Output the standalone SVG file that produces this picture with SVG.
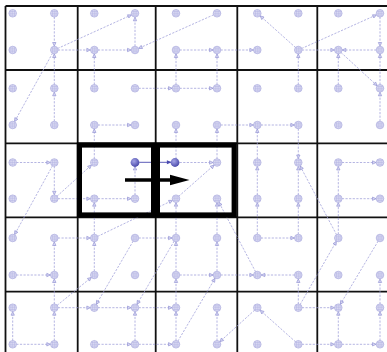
<svg xmlns="http://www.w3.org/2000/svg" xmlns:xlink="http://www.w3.org/1999/xlink" width="387" height="352" viewBox="0 0 387 352">
<style>
.g{stroke:#111;stroke-width:1.8;fill:none}
.e{stroke:#9c9cd8;stroke-width:0.75;stroke-dasharray:2.2 1.4;fill:none;marker-end:url(#a)}
.b{marker-start:url(#a)}
.hl{fill:none;stroke:#000;stroke-width:5.2}
</style>
<defs>
<marker id="a" markerUnits="userSpaceOnUse" markerWidth="10" markerHeight="10" refX="7.9" refY="0" orient="auto-start-reverse" overflow="visible">
<path d="M0.4,-1.7 L4,0 L0.4,1.7 Z" fill="#d6d6f2" stroke="#8c8cd0" stroke-width="0.6"/>
</marker>
<marker id="sb" markerUnits="userSpaceOnUse" markerWidth="10" markerHeight="10" refX="4.3" refY="0" orient="auto" overflow="visible">
<path d="M-0.5,-2 L4.3,0 L-0.5,2 Z" fill="#4a4ab0"/>
</marker>
<radialGradient id="fg" cx="0.38" cy="0.35" r="0.7">
<stop offset="0" stop-color="#a4a4e6"/>
<stop offset="1" stop-color="#4646a8"/>
</radialGradient>
<g id="hn">
<circle r="3.8" fill="#e2e2f5" stroke="#a9a9dd" stroke-width="0.7"/>
<path d="M-3.6,0H3.6M0,-3.6V3.6M-3,-1.8H3M-3,1.8H3M-1.8,-3V3M1.8,-3V3" stroke="#b3b3e3" stroke-width="0.55"/>
</g>
</defs>
<rect width="387" height="352" fill="#fff"/>
<g id="grid">
<path class="g" d="M5.5,6H387M5.5,70H387M5.5,143.3H387M5.5,217.3H387M5.5,291.7H387M5.5,6V352M77.7,6V352M155.7,6V352M237.3,6V352M317.3,6V352"/>
</g>
<g id="connectors">
<line class="e" x1="54.3" y1="13.3" x2="54.3" y2="50"/>
<line class="e" x1="54.3" y1="88.3" x2="54.3" y2="50"/>
<line class="e" x1="54.3" y1="125" x2="54.3" y2="88.3"/>
<line class="e" x1="54.3" y1="50" x2="135" y2="13.3"/>
<line class="e" x1="54.3" y1="50" x2="12.7" y2="125"/>
<line class="e" x1="54.3" y1="50" x2="94.3" y2="50"/>
<line class="e" x1="94.3" y1="50" x2="135" y2="50"/>
<line class="e" x1="94.3" y1="88.3" x2="94.3" y2="50"/>
<line class="e" x1="135" y1="50" x2="135" y2="13.3"/>
<line class="e" x1="217" y1="13.3" x2="135" y2="50"/>
<line class="e" x1="176" y1="50" x2="217" y2="50"/>
<line class="e" x1="217" y1="50" x2="257.3" y2="50"/>
<line class="e" x1="176" y1="88.3" x2="176" y2="50"/>
<line class="e" x1="217" y1="88.3" x2="217" y2="50"/>
<line class="e" x1="135" y1="88.3" x2="176" y2="88.3"/>
<line class="e" x1="176" y1="88.3" x2="217" y2="88.3"/>
<line class="e" x1="298.3" y1="50" x2="257.3" y2="13.3"/>
<line class="e" x1="298.3" y1="50" x2="380" y2="13.3"/>
<line class="e" x1="298.3" y1="50" x2="338.3" y2="50"/>
<line class="e" x1="380" y1="50" x2="338.3" y2="50"/>
<line class="e" x1="380" y1="13.3" x2="380" y2="50"/>
<line class="e" x1="380" y1="88.3" x2="380" y2="50"/>
<line class="e" x1="338.3" y1="88.3" x2="338.3" y2="50"/>
<line class="e" x1="338.3" y1="50" x2="380" y2="88.3"/>
<line class="e" x1="380" y1="125" x2="380" y2="88.3"/>
<line class="e" x1="298.3" y1="88.3" x2="298.3" y2="50"/>
<line class="e" x1="94.3" y1="125" x2="135" y2="125"/>
<line class="e" x1="94.3" y1="162.5" x2="94.3" y2="125"/>
<line class="e" x1="176" y1="162.5" x2="176" y2="125"/>
<line class="e" x1="217" y1="162.5" x2="217" y2="125"/>
<line class="e" x1="217" y1="125" x2="257.3" y2="125"/>
<line class="e" x1="257.3" y1="125" x2="298.3" y2="125"/>
<line class="e" x1="257.3" y1="162.5" x2="257.3" y2="125"/>
<line class="e" x1="298.3" y1="125" x2="298.3" y2="162.5"/>
<line class="e" x1="257.3" y1="198.7" x2="257.3" y2="162.5"/>
<line class="e" x1="298.3" y1="198.7" x2="298.3" y2="162.5"/>
<line class="e" x1="338.3" y1="162.5" x2="380" y2="162.5"/>
<line class="e" x1="338.3" y1="198.7" x2="380" y2="198.7"/>
<line class="e" x1="338.3" y1="198.7" x2="338.3" y2="162.5"/>
<line class="e" x1="338.3" y1="238" x2="338.3" y2="198.7"/>
<line class="e" x1="298.3" y1="238" x2="298.3" y2="198.7"/>
<line class="e" x1="257.3" y1="238" x2="257.3" y2="198.7"/>
<line class="e" x1="257.3" y1="238" x2="298.3" y2="238"/>
<line class="e" x1="380" y1="238" x2="338.3" y2="307.7"/>
<line class="e" x1="176" y1="162.5" x2="217" y2="162.5"/>
<line class="e" x1="135" y1="198.7" x2="135" y2="162.5"/>
<line class="e" x1="94.3" y1="198.7" x2="135" y2="198.7"/>
<line class="e" x1="54.3" y1="198.7" x2="94.3" y2="162.5"/>
<line class="e" x1="54.3" y1="198.7" x2="94.3" y2="198.7"/>
<line class="e" x1="94.3" y1="238" x2="94.3" y2="198.7"/>
<line class="e" x1="176" y1="198.7" x2="217" y2="162.5"/>
<line class="e" x1="94.3" y1="238" x2="176" y2="198.7"/>
<line class="e" x1="176" y1="238" x2="176" y2="198.7"/>
<line class="e" x1="217" y1="238" x2="217" y2="198.7"/>
<line class="e" x1="257.3" y1="275" x2="217" y2="198.7"/>
<line class="e" x1="12.7" y1="162.5" x2="54.3" y2="162.5"/>
<line class="e" x1="54.3" y1="162.5" x2="54.3" y2="198.7"/>
<line class="e" x1="54.3" y1="162.5" x2="12.7" y2="238"/>
<line class="e" x1="338.3" y1="238" x2="298.3" y2="162.5"/>
<line class="e" x1="54.3" y1="238" x2="94.3" y2="238"/>
<line class="e" x1="54.3" y1="275" x2="54.3" y2="238"/>
<line class="e" x1="54.3" y1="307.7" x2="54.3" y2="275"/>
<line class="e" x1="12.7" y1="275" x2="54.3" y2="275"/>
<line class="e" x1="54.3" y1="307.7" x2="94.3" y2="275"/>
<line class="e" x1="54.3" y1="307.7" x2="94.3" y2="307.7"/>
<line class="e" x1="54.3" y1="344.3" x2="54.3" y2="307.7"/>
<line class="e" x1="12.7" y1="344.3" x2="54.3" y2="344.3"/>
<line class="e" x1="12.7" y1="344.3" x2="12.7" y2="307.7"/>
<line class="e" x1="94.3" y1="275" x2="94.3" y2="238"/>
<line class="e" x1="135" y1="238" x2="94.3" y2="307.7"/>
<line class="e" x1="135" y1="238" x2="176" y2="238"/>
<line class="e" x1="176" y1="238" x2="135" y2="307.7"/>
<line class="e" x1="176" y1="275" x2="176" y2="238"/>
<line class="e" x1="176" y1="275" x2="217" y2="275"/>
<line class="e" x1="217" y1="275" x2="217" y2="238"/>
<line class="e" x1="176" y1="344.3" x2="217" y2="275"/>
<line class="e" x1="94.3" y1="307.7" x2="135" y2="307.7"/>
<line class="e" x1="135" y1="307.7" x2="176" y2="307.7"/>
<line class="e" x1="135" y1="344.3" x2="135" y2="307.7"/>
<line class="e" x1="94.3" y1="344.3" x2="135" y2="344.3"/>
<line class="e" x1="135" y1="344.3" x2="176" y2="344.3"/>
<line class="e" x1="176" y1="344.3" x2="176" y2="307.7"/>
<line class="e" x1="176" y1="307.7" x2="176" y2="275"/>
<line class="e" x1="217" y1="275" x2="257.3" y2="275"/>
<line class="e" x1="298.3" y1="275" x2="257.3" y2="275"/>
<line class="e" x1="217" y1="344.3" x2="217" y2="307.7"/>
<line class="e" x1="257.3" y1="307.7" x2="217" y2="344.3"/>
<line class="e" x1="298.3" y1="307.7" x2="298.3" y2="275"/>
<line class="e" x1="298.3" y1="307.7" x2="338.3" y2="238"/>
<line class="e" x1="298.3" y1="307.7" x2="338.3" y2="307.7"/>
<line class="e" x1="298.3" y1="344.3" x2="257.3" y2="307.7"/>
<line class="e" x1="298.3" y1="344.3" x2="338.3" y2="344.3"/>
<line class="e" x1="338.3" y1="344.3" x2="380" y2="344.3"/>
<line class="e" x1="338.3" y1="344.3" x2="338.3" y2="307.7"/>
<line class="e" x1="380" y1="344.3" x2="380" y2="307.7"/>
<line class="e" x1="380" y1="307.7" x2="380" y2="275"/>
<line x1="139.3" y1="162.3" x2="171.7" y2="162.3" stroke="#4a4ab0" stroke-width="0.9" marker-end="url(#sb)"/>
</g>
<g id="nodes">
<g id="n0_0"><use xlink:href="#hn" x="12.7" y="13.3"/></g>
<g id="n1_0"><use xlink:href="#hn" x="54.3" y="13.3"/></g>
<g id="n2_0"><use xlink:href="#hn" x="94.3" y="13.3"/></g>
<g id="n3_0"><use xlink:href="#hn" x="135" y="13.3"/></g>
<g id="n4_0"><use xlink:href="#hn" x="176" y="13.3"/></g>
<g id="n5_0"><use xlink:href="#hn" x="217" y="13.3"/></g>
<g id="n6_0"><use xlink:href="#hn" x="257.3" y="13.3"/></g>
<g id="n7_0"><use xlink:href="#hn" x="298.3" y="13.3"/></g>
<g id="n8_0"><use xlink:href="#hn" x="338.3" y="13.3"/></g>
<g id="n9_0"><use xlink:href="#hn" x="380" y="13.3"/></g>
<g id="n0_1"><use xlink:href="#hn" x="12.7" y="50"/></g>
<g id="n1_1"><use xlink:href="#hn" x="54.3" y="50"/></g>
<g id="n2_1"><use xlink:href="#hn" x="94.3" y="50"/></g>
<g id="n3_1"><use xlink:href="#hn" x="135" y="50"/></g>
<g id="n4_1"><use xlink:href="#hn" x="176" y="50"/></g>
<g id="n5_1"><use xlink:href="#hn" x="217" y="50"/></g>
<g id="n6_1"><use xlink:href="#hn" x="257.3" y="50"/></g>
<g id="n7_1"><use xlink:href="#hn" x="298.3" y="50"/></g>
<g id="n8_1"><use xlink:href="#hn" x="338.3" y="50"/></g>
<g id="n9_1"><use xlink:href="#hn" x="380" y="50"/></g>
<g id="n0_2"><use xlink:href="#hn" x="12.7" y="88.3"/></g>
<g id="n1_2"><use xlink:href="#hn" x="54.3" y="88.3"/></g>
<g id="n2_2"><use xlink:href="#hn" x="94.3" y="88.3"/></g>
<g id="n3_2"><use xlink:href="#hn" x="135" y="88.3"/></g>
<g id="n4_2"><use xlink:href="#hn" x="176" y="88.3"/></g>
<g id="n5_2"><use xlink:href="#hn" x="217" y="88.3"/></g>
<g id="n6_2"><use xlink:href="#hn" x="257.3" y="88.3"/></g>
<g id="n7_2"><use xlink:href="#hn" x="298.3" y="88.3"/></g>
<g id="n8_2"><use xlink:href="#hn" x="338.3" y="88.3"/></g>
<g id="n9_2"><use xlink:href="#hn" x="380" y="88.3"/></g>
<g id="n0_3"><use xlink:href="#hn" x="12.7" y="125"/></g>
<g id="n1_3"><use xlink:href="#hn" x="54.3" y="125"/></g>
<g id="n2_3"><use xlink:href="#hn" x="94.3" y="125"/></g>
<g id="n3_3"><use xlink:href="#hn" x="135" y="125"/></g>
<g id="n4_3"><use xlink:href="#hn" x="176" y="125"/></g>
<g id="n5_3"><use xlink:href="#hn" x="217" y="125"/></g>
<g id="n6_3"><use xlink:href="#hn" x="257.3" y="125"/></g>
<g id="n7_3"><use xlink:href="#hn" x="298.3" y="125"/></g>
<g id="n8_3"><use xlink:href="#hn" x="338.3" y="125"/></g>
<g id="n9_3"><use xlink:href="#hn" x="380" y="125"/></g>
<g id="n0_4"><use xlink:href="#hn" x="12.7" y="162.5"/></g>
<g id="n1_4"><use xlink:href="#hn" x="54.3" y="162.5"/></g>
<g id="n2_4"><use xlink:href="#hn" x="94.3" y="162.5"/></g>
<g id="n3_4"><circle cx="135" cy="162.5" r="4.4" fill="url(#fg)"/></g>
<g id="n4_4"><circle cx="175" cy="162.5" r="4.4" fill="url(#fg)"/></g>
<g id="n5_4"><use xlink:href="#hn" x="217" y="162.5"/></g>
<g id="n6_4"><use xlink:href="#hn" x="257.3" y="162.5"/></g>
<g id="n7_4"><use xlink:href="#hn" x="298.3" y="162.5"/></g>
<g id="n8_4"><use xlink:href="#hn" x="338.3" y="162.5"/></g>
<g id="n9_4"><use xlink:href="#hn" x="380" y="162.5"/></g>
<g id="n0_5"><use xlink:href="#hn" x="12.7" y="198.7"/></g>
<g id="n1_5"><use xlink:href="#hn" x="54.3" y="198.7"/></g>
<g id="n2_5"><use xlink:href="#hn" x="94.3" y="198.7"/></g>
<g id="n3_5"><use xlink:href="#hn" x="135" y="198.7"/></g>
<g id="n4_5"><use xlink:href="#hn" x="176" y="198.7"/></g>
<g id="n5_5"><use xlink:href="#hn" x="217" y="198.7"/></g>
<g id="n6_5"><use xlink:href="#hn" x="257.3" y="198.7"/></g>
<g id="n7_5"><use xlink:href="#hn" x="298.3" y="198.7"/></g>
<g id="n8_5"><use xlink:href="#hn" x="338.3" y="198.7"/></g>
<g id="n9_5"><use xlink:href="#hn" x="380" y="198.7"/></g>
<g id="n0_6"><use xlink:href="#hn" x="12.7" y="238"/></g>
<g id="n1_6"><use xlink:href="#hn" x="54.3" y="238"/></g>
<g id="n2_6"><use xlink:href="#hn" x="94.3" y="238"/></g>
<g id="n3_6"><use xlink:href="#hn" x="135" y="238"/></g>
<g id="n4_6"><use xlink:href="#hn" x="176" y="238"/></g>
<g id="n5_6"><use xlink:href="#hn" x="217" y="238"/></g>
<g id="n6_6"><use xlink:href="#hn" x="257.3" y="238"/></g>
<g id="n7_6"><use xlink:href="#hn" x="298.3" y="238"/></g>
<g id="n8_6"><use xlink:href="#hn" x="338.3" y="238"/></g>
<g id="n9_6"><use xlink:href="#hn" x="380" y="238"/></g>
<g id="n0_7"><use xlink:href="#hn" x="12.7" y="275"/></g>
<g id="n1_7"><use xlink:href="#hn" x="54.3" y="275"/></g>
<g id="n2_7"><use xlink:href="#hn" x="94.3" y="275"/></g>
<g id="n3_7"><use xlink:href="#hn" x="135" y="275"/></g>
<g id="n4_7"><use xlink:href="#hn" x="176" y="275"/></g>
<g id="n5_7"><use xlink:href="#hn" x="217" y="275"/></g>
<g id="n6_7"><use xlink:href="#hn" x="257.3" y="275"/></g>
<g id="n7_7"><use xlink:href="#hn" x="298.3" y="275"/></g>
<g id="n8_7"><use xlink:href="#hn" x="338.3" y="275"/></g>
<g id="n9_7"><use xlink:href="#hn" x="380" y="275"/></g>
<g id="n0_8"><use xlink:href="#hn" x="12.7" y="307.7"/></g>
<g id="n1_8"><use xlink:href="#hn" x="54.3" y="307.7"/></g>
<g id="n2_8"><use xlink:href="#hn" x="94.3" y="307.7"/></g>
<g id="n3_8"><use xlink:href="#hn" x="135" y="307.7"/></g>
<g id="n4_8"><use xlink:href="#hn" x="176" y="307.7"/></g>
<g id="n5_8"><use xlink:href="#hn" x="217" y="307.7"/></g>
<g id="n6_8"><use xlink:href="#hn" x="257.3" y="307.7"/></g>
<g id="n7_8"><use xlink:href="#hn" x="298.3" y="307.7"/></g>
<g id="n8_8"><use xlink:href="#hn" x="338.3" y="307.7"/></g>
<g id="n9_8"><use xlink:href="#hn" x="380" y="307.7"/></g>
<g id="n0_9"><use xlink:href="#hn" x="12.7" y="344.3"/></g>
<g id="n1_9"><use xlink:href="#hn" x="54.3" y="344.3"/></g>
<g id="n2_9"><use xlink:href="#hn" x="94.3" y="344.3"/></g>
<g id="n3_9"><use xlink:href="#hn" x="135" y="344.3"/></g>
<g id="n4_9"><use xlink:href="#hn" x="176" y="344.3"/></g>
<g id="n5_9"><use xlink:href="#hn" x="217" y="344.3"/></g>
<g id="n6_9"><use xlink:href="#hn" x="257.3" y="344.3"/></g>
<g id="n7_9"><use xlink:href="#hn" x="298.3" y="344.3"/></g>
<g id="n8_9"><use xlink:href="#hn" x="338.3" y="344.3"/></g>
<g id="n9_9"><use xlink:href="#hn" x="380" y="344.3"/></g>
</g>
<g id="highlight">
<rect class="hl" x="79.4" y="145" width="74.2" height="70"/>
<rect class="hl" x="157.4" y="145" width="76.8" height="70"/>
<path d="M125,180H172" stroke="#000" stroke-width="3.3"/>
<path d="M170,174.8L189.5,180L170,185.2Z" fill="#000"/>
</g>
</svg>
